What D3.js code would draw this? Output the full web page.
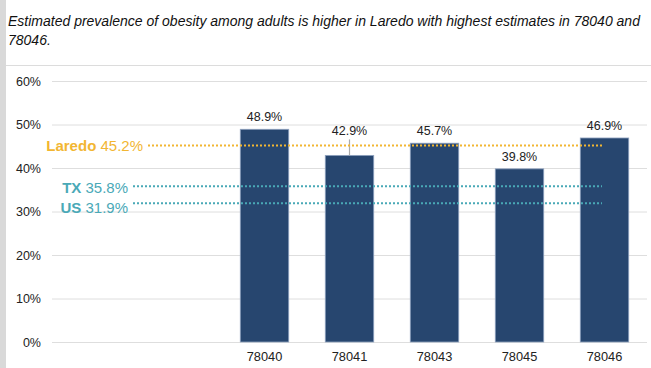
<!DOCTYPE html>
<html><head><meta charset="utf-8">
<script src="https://cdn.jsdelivr.net/npm/d3@7"></script>
<style>
html,body{margin:0;padding:0;background:#fff;}
svg{display:block;font-family:"Liberation Sans",Arial,sans-serif;}
</style></head>
<body>
<svg id="chart" width="651" height="368"></svg>
<script>
const titleLines = ["Estimated prevalence of obesity among adults is higher in Laredo with highest estimates in 78040 and", "78046."];
const categories = ["78040", "78041", "78043", "78045", "78046"];
const values = [48.9, 42.9, 45.7, 39.8, 46.9];
const valueLabels = ["48.9%", "42.9%", "45.7%", "39.8%", "46.9%"];
const yTicks = [0, 10, 20, 30, 40, 50, 60];
const refNames = ["Laredo", "TX", "US"];
const refValues = [45.2, 35.8, 31.9];
const refLabels = ["45.2%", "35.8%", "31.9%"];

const FONT = "'Liberation Sans', Arial, sans-serif";
const svg = d3.select("#chart");
const W = 651, H = 368;
const plot = {left: 52, right: 647, top: 81, bottom: 342};

// left gray strip and divider
svg.append("rect").attr("x",0).attr("y",0).attr("width",6).attr("height",H).attr("fill","#d9d9d9");
svg.append("line").attr("x1",6).attr("x2",W).attr("y1",65.5).attr("y2",65.5).attr("stroke","#dcdcdc").attr("stroke-width",1);

// title
const t = svg.append("text").attr("x",8).attr("y",26).attr("font-size",14).attr("font-style","italic").attr("fill","#111").attr("font-family",FONT);
titleLines.forEach((l,i)=>t.append("tspan").attr("x",8).attr("dy", i===0?0:18.5).text(l));

const y = d3.scaleLinear().domain([0,60]).range([plot.bottom, plot.top]);
const slots = ["", " "].concat(categories);
const x = d3.scaleBand().domain(slots).range([plot.left, plot.right]).paddingInner(0.43).paddingOuter(0.215);

// gridlines
const yAxis = d3.axisLeft(y).tickValues(yTicks).tickFormat(d=>d+"%").tickSize(-(plot.right-plot.left)).tickPadding(11);
const ga = svg.append("g").attr("transform",`translate(${plot.left},0)`).call(yAxis);
ga.select(".domain").remove();
ga.selectAll(".tick line").attr("stroke","#dedede").attr("stroke-width",1);
ga.selectAll(".tick text").attr("font-size",12.5).attr("fill","#222").attr("font-family",FONT);

// bars
svg.append("g").selectAll("rect").data(categories).join("rect")
  .attr("x", d=>x(d)).attr("width", x.bandwidth())
  .attr("y", (d,i)=>y(values[i])).attr("height", (d,i)=>y(0)-y(values[i]))
  .attr("fill","#27466f").attr("stroke","#8fa2bf").attr("stroke-width",0.8);

// x axis labels
const xAxis = d3.axisBottom(x).tickValues(categories).tickSize(0).tickPadding(10);
const gx = svg.append("g").attr("transform",`translate(0,${plot.bottom})`).call(xAxis);
gx.select(".domain").remove();
gx.selectAll(".tick text").attr("font-size",12.8).attr("fill","#222").attr("font-family",FONT);

// value labels (78041 lifted with leader line)
const lift = [0, 12, 0, 0, 0];
categories.forEach((c,i)=>{
  const cx = x(c) + x.bandwidth()/2;
  const ty = y(values[i]) - 8 - lift[i];
  svg.append("text").attr("x",cx).attr("y",ty).attr("text-anchor","middle")
    .attr("font-size",12.5).attr("fill","#222").attr("font-family",FONT).text(valueLabels[i]);
  if (lift[i] > 0) {
    svg.append("line").attr("x1",cx).attr("x2",cx).attr("y1",ty+4).attr("y2",y(values[i]))
      .attr("stroke","#aaaaaa").attr("stroke-width",1.2);
  }
});

// reference lines
const refColors = ["#f2b632", "#4aa9b7", "#4aa9b7"];
const refStart = [148, 133, 133];
const refTextDy = [6, 6.4, 10];
const lineEnd = 602;
refNames.forEach((n,i)=>{
  const yy = y(refValues[i]);
  svg.append("line").attr("x1",refStart[i]).attr("x2",lineEnd).attr("y1",yy).attr("y2",yy)
    .attr("stroke",refColors[i]).attr("stroke-width",2).attr("stroke-dasharray","2,2");
  const tx = svg.append("text").attr("x",refStart[i]-5).attr("y",yy+refTextDy[i]).attr("text-anchor","end")
    .attr("font-size",15).attr("fill",refColors[i]).attr("font-family",FONT);
  tx.append("tspan").attr("font-weight","bold").text(n);
  tx.append("tspan").text(" " + refLabels[i]);
});
</script>
</body></html>
